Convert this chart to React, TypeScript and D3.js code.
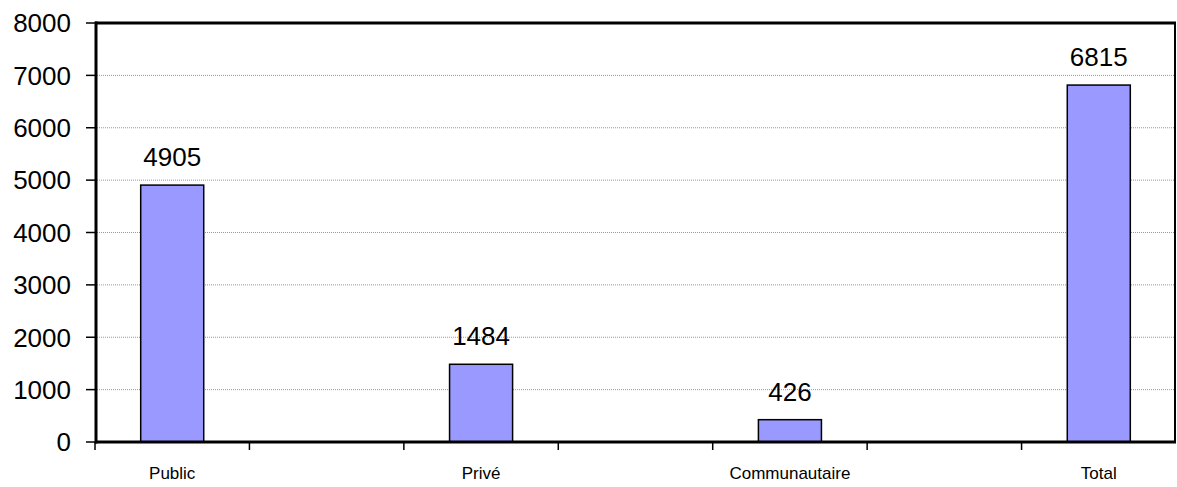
import * as d3 from "d3";

// categories include the blank spacer columns of the original sheet
const categories = ["Public", "", "Privé", "", "Communautaire", "", "Total"];
const values: (number | null)[] = [4905, null, 1484, null, 426, null, 6815];
const yTicks = [0, 1000, 2000, 3000, 4000, 5000, 6000, 7000, 8000];

const width = 1177;
const height = 487;
const margin = { top: 23, right: 1, bottom: 45, left: 95 };

const Chart = () => {
  const xScale = d3
    .scaleBand()
    .domain(categories.map((c, i) => `${i}`))
    .range([margin.left, width - margin.right])
    .padding(0);
  const yScale = d3
    .scaleLinear()
    .domain([0, 8000])
    .range([height - margin.bottom, margin.top]);

  const bw = xScale.bandwidth();
  const barW = bw / 2.45;
  const x0 = margin.left;
  const x1 = width - margin.right;
  const y0 = yScale(0);
  const yTop = yScale(8000);

  return (
    <svg
      width={width}
      height={height}
      style={{ position: "absolute", left: 0, top: 0, background: "#fff" }}
      fontFamily="'Liberation Sans', Arial, sans-serif"
    >
      {/* gridlines */}
      {yTicks.slice(1, -1).map((t) => (
        <line
          key={t}
          x1={x0}
          x2={x1}
          y1={yScale(t)}
          y2={yScale(t)}
          stroke="#999"
          strokeWidth={1}
          strokeDasharray="1,1"
        />
      ))}

      {/* frame */}
      <line x1={x0} x2={x1} y1={yTop} y2={yTop} stroke="#000" strokeWidth={3} />
      <line x1={x1 - 1} x2={x1 - 1} y1={yTop} y2={y0} stroke="#000" strokeWidth={2} />

      {/* bars */}
      {values.map((v, i) =>
        v == null ? null : (
          <g key={i}>
            <rect
              x={(xScale(`${i}`) ?? 0) + (bw - barW) / 2}
              y={yScale(v)}
              width={barW}
              height={y0 - yScale(v)}
              fill="#9999ff"
              stroke="#000"
              strokeWidth={1.5}
            />
            <text
              x={(xScale(`${i}`) ?? 0) + bw / 2}
              y={yScale(v) - 19}
              textAnchor="middle"
              fontSize={26}
              fill="#000"
            >
              {v}
            </text>
          </g>
        )
      )}

      {/* y-axis */}
      <line x1={x0 + 1} x2={x0 + 1} y1={yTop - 1.5} y2={y0 + 1.5} stroke="#000" strokeWidth={3} />
      {yTicks.map((t) => (
        <g key={t}>
          <line x1={x0 - 9} x2={x0} y1={yScale(t)} y2={yScale(t)} stroke="#000" strokeWidth={1.5} />
          <text
            x={71}
            y={yScale(t)}
            dy="0.36em"
            textAnchor="end"
            fontSize={26}
            fill="#000"
          >
            {t}
          </text>
        </g>
      ))}

      {/* x-axis */}
      <line x1={x0} x2={x1} y1={y0} y2={y0} stroke="#000" strokeWidth={3} />
      {categories.map((c, i) => (
        <line
          key={`t${i}`}
          x1={xScale(`${i}`) ?? 0}
          x2={xScale(`${i}`) ?? 0}
          y1={y0}
          y2={y0 + 8}
          stroke="#000"
          strokeWidth={1.5}
        />
      ))}
      {categories.map((c, i) =>
        c ? (
          <text
            key={`l${i}`}
            x={(xScale(`${i}`) ?? 0) + bw / 2}
            y={479}
            textAnchor="middle"
            fontSize={17}
            fill="#000"
          >
            {c}
          </text>
        ) : null
      )}
    </svg>
  );
};

export default function App() {
  return <Chart />;
}
